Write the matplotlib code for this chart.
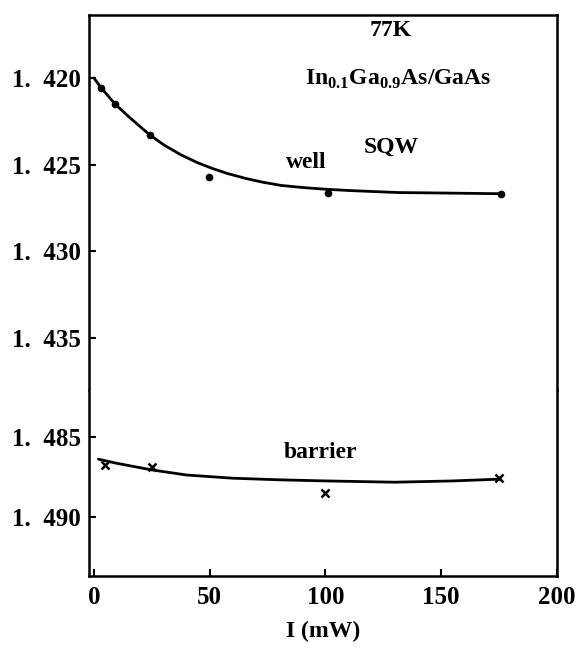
import matplotlib
matplotlib.use("Agg")
import matplotlib.pyplot as plt

plt.rcParams['font.family'] = ['Liberation Serif', 'DejaVu Serif']
plt.rcParams['mathtext.fontset'] = 'custom'
plt.rcParams['mathtext.rm'] = 'Liberation Serif'
plt.rcParams['mathtext.bf'] = 'Liberation Serif:bold'

# well (upper branch): measured points and drawn curve
well_x = [3, 9, 24, 49, 100, 174]
well_y = [1.42059, 1.42152, 1.42329, 1.42573, 1.42665, 1.42669]
well_fit_x = [0, 3, 9, 15, 24, 30, 37, 44, 50, 57, 65, 72, 80, 90, 99, 110, 130, 150, 175]
well_fit_y = [1.4200, 1.42055, 1.42150, 1.42225, 1.42330, 1.42387, 1.42442, 1.42487,
              1.42519, 1.42551, 1.42580, 1.42601, 1.42620, 1.42633, 1.42642, 1.42650,
              1.42661, 1.42664, 1.42668]

# barrier (lower branch)
bar_x = [5, 25, 100, 175]
bar_y = [1.48675, 1.48686, 1.48848, 1.48758]
bar_fit_x = [2, 10, 25, 40, 60, 80, 100, 130, 155, 175]
bar_fit_y = [1.48639, 1.48665, 1.48706, 1.48738, 1.48758, 1.48768, 1.48775,
             1.48783, 1.48775, 1.48764]

upper_ticks = [1.420, 1.425, 1.430, 1.435]
lower_ticks = [1.485, 1.490]
x_ticks = [0, 50, 100, 150, 200]

W, H = 576, 649
fig = plt.figure(figsize=(W / 100, H / 100), dpi=100)

left, right = 89 / W, 557 / W
top, split, bottom = 1 - 15 / H, 1 - 390 / H, 1 - 576 / H
ax_u = fig.add_axes([left, split, right - left, top - split])
ax_l = fig.add_axes([left, bottom, right - left, split - bottom])

lw = 1.8
for ax in (ax_u, ax_l):
    ax.set_xlim(-2.1, 198)
    for s in ax.spines.values():
        s.set_linewidth(lw)
    ax.tick_params(direction='in', length=5, width=1.5, labelsize=18)
    ax.tick_params(axis='y', pad=6)

ax_u.spines['bottom'].set_visible(False)
ax_l.spines['top'].set_visible(False)
ax_u.tick_params(bottom=False, labelbottom=False)

ax_u.set_ylim(1.4380, 1.41637)
ax_l.set_ylim(1.4937, 1.48206)


def ylab(v):
    return f"1.  {round(v * 1000) % 1000:03d}"


ax_u.set_yticks(upper_ticks)
ax_u.set_yticklabels([ylab(v) for v in upper_ticks], fontweight='bold')
ax_l.set_yticks(lower_ticks)
ax_l.set_yticklabels([ylab(v) for v in lower_ticks], fontweight='bold')
ax_l.set_xticks(x_ticks)
ax_l.set_xticklabels([str(v) for v in x_ticks], fontweight='bold')
ax_l.tick_params(axis='x', pad=7)

ax_u.plot(well_fit_x, well_fit_y, color='black', lw=2.0, solid_capstyle='round')
ax_u.plot(well_x, well_y, 'o', color='black', ms=4.5)

ax_l.plot(bar_fit_x, bar_fit_y, color='black', lw=2.0, solid_capstyle='round')
ax_l.plot(bar_x, bar_y, 'x', color='black', ms=6, mew=1.8)

ax_l.set_xlabel("I (mW)", fontsize=17, fontweight='bold', labelpad=9)

ax_u.text(127, 1.41725, "77K", fontsize=17, fontweight='bold', ha='center', va='center')
ax_u.text(130, 1.4201,
          r"In$_{\mathbf{0.1}}$Ga$_{\mathbf{0.9}}$As/GaAs",
          fontsize=17, fontweight='bold', ha='center', va='center')
ax_u.text(127, 1.4240, "SQW", fontsize=17, fontweight='bold', ha='center', va='center')
ax_u.text(91, 1.4249, "well", fontsize=17, fontweight='bold', ha='center', va='center')
ax_l.text(98, 1.4860, "barrier", fontsize=17, fontweight='bold', ha='center', va='center')

fig.savefig("out.png", dpi=100)
